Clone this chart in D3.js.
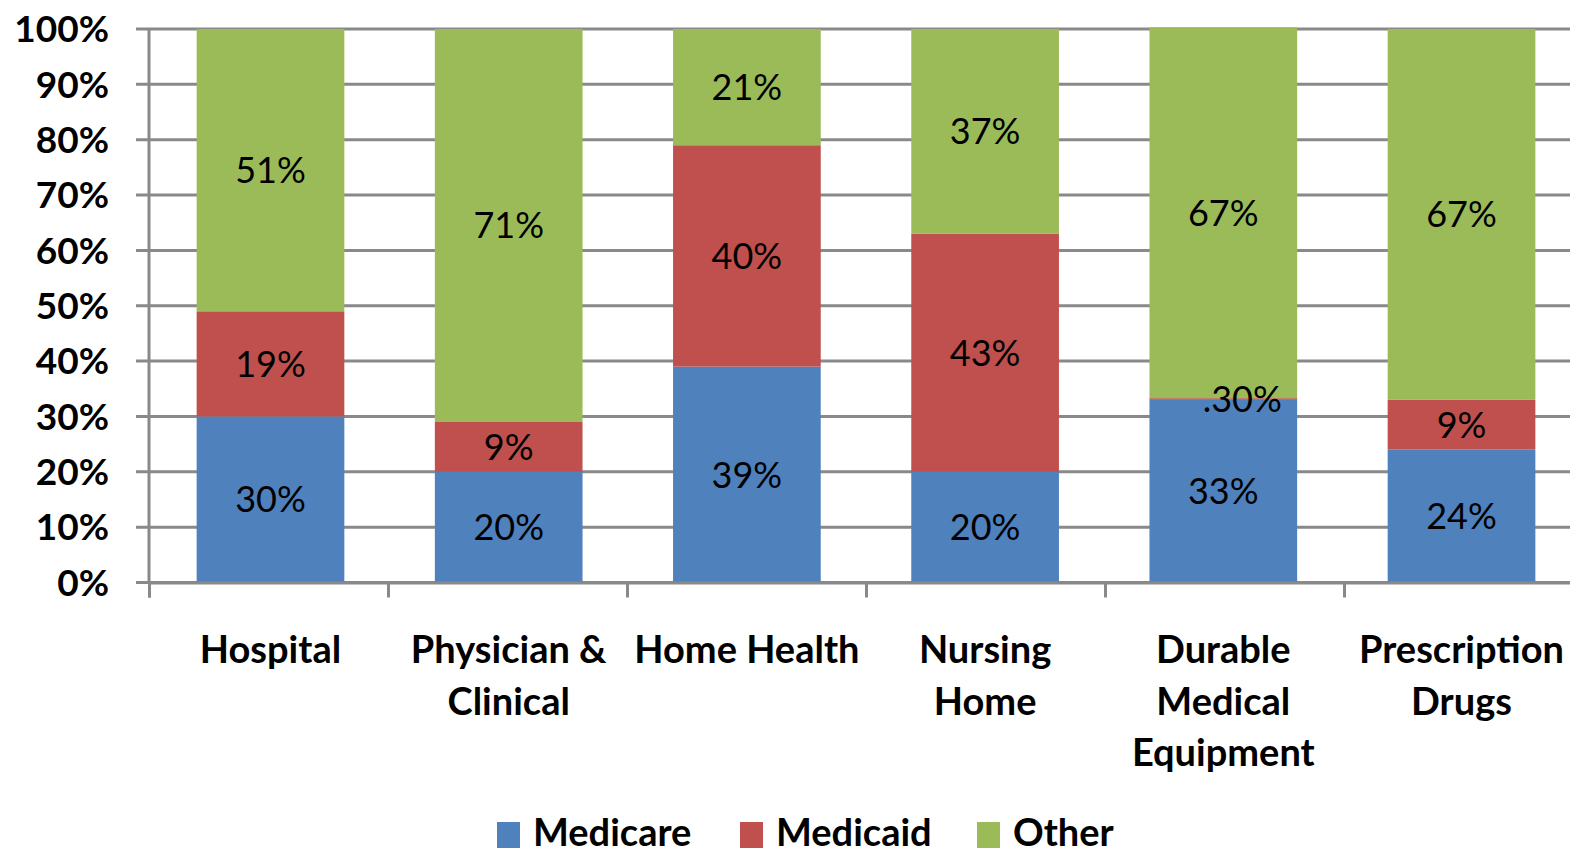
<!DOCTYPE html>
<meta charset="utf-8">
<html>
  <head>
    <style>
      body { margin: 0; background: #fff; }
      text { font-family: Lato, "Open Sans", sans-serif; fill: #000; }
      .tick-label { font-size: 37px; font-weight: bold; }
      .cat-label { font-size: 38px; font-weight: bold; }
      .bar-label { font-size: 36px; }
      .legend-label { font-size: 38px; font-weight: bold; }
      .grid line { stroke: #898989; stroke-width: 3px; }
    </style>
    <script src="https://d3js.org/d3.v7.min.js"></script>
  </head>
  <body>
    <div id="chart"></div>
    <script type="text/javascript">
      var categories = [["Hospital"], ["Physician &", "Clinical"], ["Home Health"], ["Nursing", "Home"], ["Durable", "Medical", "Equipment"], ["Prescription", "Drugs"]],
          seriesNames = ["Medicare", "Medicaid", "Other"],
          colors = ["#4F81BD", "#C0504D", "#9BBB59"],
          medicare = [30, 20, 39, 20, 33, 24],
          medicaid = [19, 9, 40, 43, 0.3, 9],
          other = [51, 71, 21, 37, 67, 67],
          medicareLabels = ["30%", "20%", "39%", "20%", "33%", "24%"],
          medicaidLabels = ["19%", "9%", "40%", "43%", ".30%", "9%"],
          otherLabels = ["51%", "71%", "21%", "37%", "67%", "67%"],
          yTicks = [0, 10, 20, 30, 40, 50, 60, 70, 80, 90, 100];

      var W = 1570, H = 856,
          plotLeft = 149, plotRight = 1583, plotTop = 29, plotBottom = 582.5;

      var svg = d3.select("#chart").append("svg")
          .attr("width", W)
          .attr("height", H);

      var x = d3.scaleBand()
          .domain(d3.range(categories.length))
          .range([plotLeft, plotRight])
          .paddingInner(0.38)
          .paddingOuter(0.2);

      var xEdge = d3.scaleLinear()
          .domain([0, categories.length])
          .range([plotLeft, plotRight]);

      var y = d3.scaleLinear()
          .domain([0, 100])
          .range([plotBottom, plotTop]);

      // gridlines + y ticks
      var grid = svg.append("g").attr("class", "grid");
      grid.selectAll("line")
          .data(yTicks)
          .enter().append("line")
            .attr("x1", plotLeft - 13)
            .attr("x2", W)
            .attr("y1", function(d) { return y(d); })
            .attr("y2", function(d) { return y(d); });

      svg.selectAll(".tick-label")
          .data(yTicks)
          .enter().append("text")
            .attr("class", "tick-label")
            .attr("x", 109)
            .attr("y", function(d) { return y(d); })
            .attr("dy", "0.36em")
            .style("text-anchor", "end")
            .text(function(d) { return d + "%"; });

      // stacked bars
      var rows = categories.map(function(c, i) {
        return { i: i, Medicare: medicare[i], Medicaid: medicaid[i], Other: other[i] };
      });
      var labels = { Medicare: medicareLabels, Medicaid: medicaidLabels, Other: otherLabels };
      var stack = d3.stack().keys(seriesNames)(rows);

      var layers = svg.selectAll(".layer")
          .data(stack)
          .enter().append("g")
            .attr("class", "layer")
            .attr("fill", function(d, i) { return colors[i]; });

      layers.selectAll("rect")
          .data(function(d) { return d; })
          .enter().append("rect")
            .attr("x", function(d) { return x(d.data.i); })
            .attr("width", x.bandwidth())
            .attr("y", function(d) { return y(d[1]); })
            .attr("height", function(d) { return y(d[0]) - y(d[1]); });

      var labelLayer = svg.append("g");
      stack.forEach(function(s) {
        labelLayer.selectAll(".lbl-" + s.key)
          .data(s)
          .enter().append("text")
            .attr("class", "bar-label lbl-" + s.key)
            .attr("x", function(d) {
              var cx = x(d.data.i) + x.bandwidth() / 2;
              // the tiny medicaid label sits off to the right in the original
              return (s.key === "Medicaid" && d.data.Medicaid < 1) ? cx + 19 : cx;
            })
            .attr("y", function(d) { return y((d[0] + d[1]) / 2); })
            .attr("dy", "0.36em")
            .style("text-anchor", "middle")
            .text(function(d) { return labels[s.key][d.data.i]; });
      });

      // axes
      svg.append("line")
          .attr("x1", plotLeft).attr("x2", plotLeft)
          .attr("y1", plotTop).attr("y2", plotBottom)
          .attr("stroke", "#898989").attr("stroke-width", 3);

      var xAxis = svg.append("g")
          .attr("transform", "translate(0," + plotBottom + ")")
          .call(d3.axisBottom(xEdge).tickValues(d3.range(categories.length + 1)).tickFormat("").tickSize(15));
      xAxis.select(".domain").attr("stroke", "#898989").attr("stroke-width", 3);
      xAxis.selectAll(".tick line").attr("stroke", "#898989").attr("stroke-width", 3);

      svg.selectAll(".cat-label")
          .data(categories)
          .enter().append("text")
            .attr("class", "cat-label")
            .attr("x", function(d, i) { return x(i) + x.bandwidth() / 2; })
            .attr("y", 663)
            .style("text-anchor", "middle")
            .each(function(lines) {
              var t = d3.select(this);
              lines.forEach(function(l, k) {
                t.append("tspan")
                  .attr("x", t.attr("x"))
                  .attr("y", 663 + k * 51.5)
                  .text(l);
              });
            });

      // legend
      var legendX = [497, 740, 977];
      var legend = svg.selectAll(".legend")
          .data(seriesNames)
          .enter().append("g")
            .attr("class", "legend")
            .attr("transform", function(d, i) { return "translate(" + legendX[i] + ",0)"; });

      legend.append("rect")
          .attr("x", 0)
          .attr("y", 822)
          .attr("width", 23)
          .attr("height", 26)
          .attr("fill", function(d, i) { return colors[i]; });

      legend.append("text")
          .attr("class", "legend-label")
          .attr("x", 36)
          .attr("y", 846)
          .text(function(d) { return d; });
    </script>
  </body>
</html>
